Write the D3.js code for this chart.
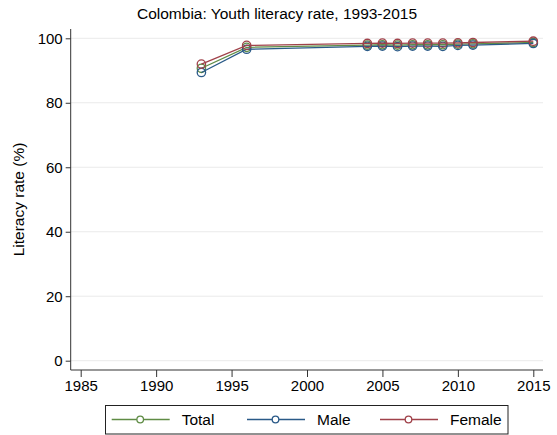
<!DOCTYPE html>
<html><head><meta charset="utf-8">
<script src="https://cdn.jsdelivr.net/npm/d3@7/dist/d3.min.js"></script>
<style>body{margin:0;background:#fff}svg{display:block;font-family:"Liberation Sans",Arial,sans-serif}</style>
</head><body><div id="chart"></div>
<script>
const years = [1993, 1996, 2004, 2005, 2006, 2007, 2008, 2009, 2010, 2011, 2015];
const total = [90.7, 97.2, 97.9, 98.0, 97.9, 98.0, 98.0, 98.0, 98.2, 98.3, 98.7];
const male = [89.4, 96.6, 97.5, 97.6, 97.4, 97.6, 97.6, 97.5, 97.8, 97.9, 98.4];
const female = [92.0, 97.8, 98.4, 98.5, 98.4, 98.5, 98.5, 98.5, 98.6, 98.7, 99.1];
const xTicks = [1985, 1990, 1995, 2000, 2005, 2010, 2015];
const yTicks = [0, 20, 40, 60, 80, 100];
const seriesNames = ["Total", "Male", "Female"];
const seriesColors = ["#5f8c45", "#2a5a88", "#a0424a"];
const titleText = "Colombia: Youth literacy rate, 1993-2015";
const yTitle = "Literacy rate (%)";

const W = 557, H = 435;
const FF = "'Liberation Sans', Arial, sans-serif";
const svg = d3.select("#chart").append("svg").attr("width", W).attr("height", H);

const x = d3.scaleLinear().domain([1985, 2015]).range([80.7, 533.3]);
const y = d3.scaleLinear().domain([0, 100]).range([360.7, 38.3]);
const xL = 70.7, xR = 543, yB = 370, yT = 29;

svg.append("g").selectAll("line").data(yTicks).join("line")
  .attr("x1", xL).attr("x2", xR).attr("y1", d => y(d)).attr("y2", d => y(d))
  .attr("stroke", "#eaeaea").attr("stroke-width", 1);

const yAxis = svg.append("g").attr("transform", `translate(${xL},0)`)
  .call(d3.axisLeft(y).tickValues(yTicks).tickSize(5).tickPadding(3).tickFormat(d3.format("d")));
yAxis.select(".domain").attr("d", `M0,${yT}V${yB}`).attr("stroke", "#333");
yAxis.selectAll(".tick line").attr("stroke", "#333");
yAxis.selectAll("text").attr("font-size", 15).attr("fill", "#000").attr("font-family", FF);

const xAxis = svg.append("g").attr("transform", `translate(0,${yB})`)
  .call(d3.axisBottom(x).tickValues(xTicks).tickSize(7).tickPadding(3).tickFormat(d3.format("d")));
xAxis.select(".domain").attr("d", `M${xL},0H${xR}`).attr("stroke", "#333");
xAxis.selectAll(".tick line").attr("stroke", "#333");
xAxis.selectAll("text").attr("font-size", 15).attr("fill", "#000").attr("font-family", FF);

svg.append("text").attr("x", 277).attr("y", 19).attr("text-anchor", "middle")
  .attr("font-size", 15.5).attr("font-family", FF).text(titleText);
svg.append("text").attr("transform", `translate(24,${(y(0) + y(100)) / 2}) rotate(-90)`)
  .attr("text-anchor", "middle").attr("font-size", 15.5).attr("font-family", FF).text(yTitle);

const data = [total, male, female];
const line = d3.line().x((d, i) => x(years[i])).y(d => y(d));
data.forEach((vals, k) => {
  const g = svg.append("g");
  g.append("path").datum(vals).attr("d", line).attr("fill", "none")
    .attr("stroke", seriesColors[k]).attr("stroke-width", 1.3);
  g.selectAll("circle").data(vals).join("circle")
    .attr("cx", (d, i) => x(years[i])).attr("cy", d => y(d)).attr("r", 4.2)
    .attr("fill", "none").attr("stroke", seriesColors[k]).attr("stroke-width", 1.3);
});

const lg = svg.append("g");
lg.append("rect").attr("x", 105.5).attr("y", 405.5).attr("width", 402.5).attr("height", 28.5)
  .attr("fill", "#fff").attr("stroke", "#222").attr("stroke-width", 1);
const lx = [111.7, 247, 380];
seriesNames.forEach((n, k) => {
  const x0 = lx[k];
  lg.append("line").attr("x1", x0).attr("x2", x0 + 58).attr("y1", 419.5).attr("y2", 419.5)
    .attr("stroke", seriesColors[k]).attr("stroke-width", 1.3);
  lg.append("circle").attr("cx", x0 + 28.5).attr("cy", 419.5).attr("r", 3.3)
    .attr("fill", "#fff").attr("stroke", seriesColors[k]).attr("stroke-width", 1.3);
  lg.append("text").attr("x", x0 + 70).attr("y", 425).attr("font-size", 15.5).attr("font-family", FF).text(n);
});
</script></body></html>
